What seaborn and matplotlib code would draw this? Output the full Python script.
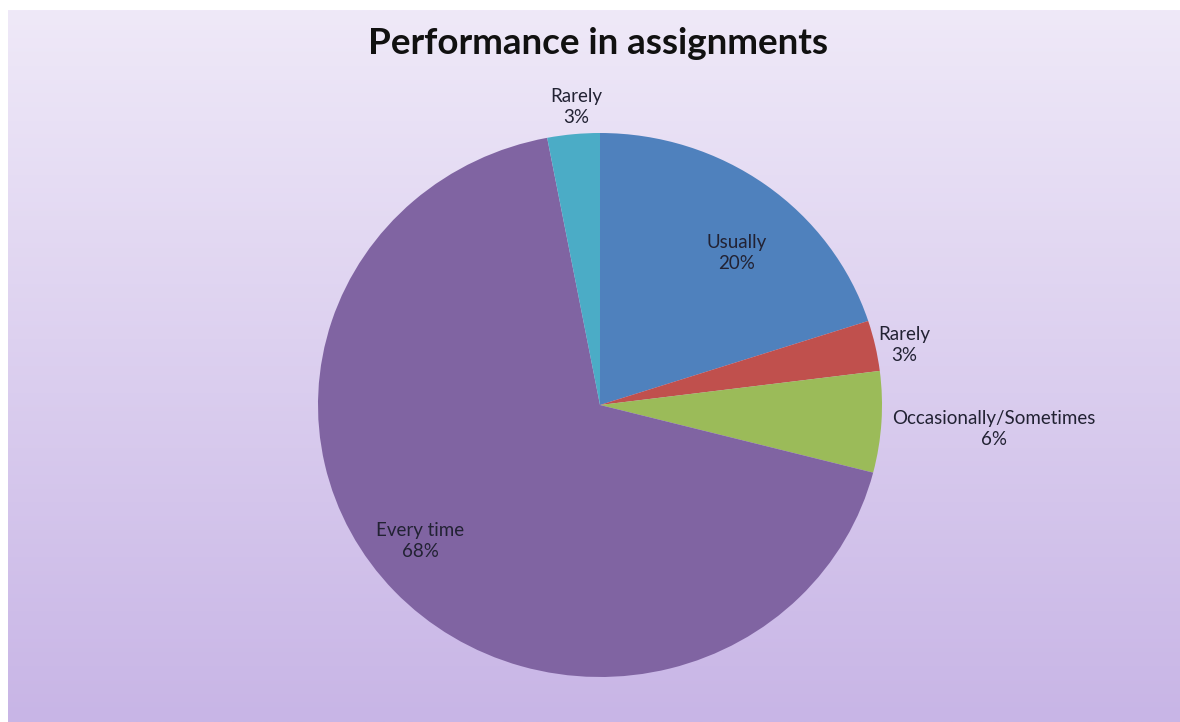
import matplotlib
matplotlib.use("Agg")
import matplotlib.pyplot as plt
import seaborn as sns
import numpy as np

# data (clockwise from 12 o'clock)
categories = ["Usually", "Rarely", "Occasionally/Sometimes", "Every time", "Rarely"]
percents = [20, 3, 6, 68, 3]
slice_colors = ["#4F81BD", "#C0504D", "#9BBB59", "#8064A2", "#4BACC6"]

# where each label sits, as fraction of radius along the slice middle
label_radius = [0.74, 1.10, 1.40, 0.81, 1.10]
label_turn = [-5, -1, 0, -5, -1]

sns.set_style("white")
plt.rcParams["font.family"] = ["Lato", "DejaVu Sans"]

W, H = 1180, 722
fig = plt.figure(figsize=(W / 100, H / 100), dpi=100)
fig.patch.set_facecolor("white")

# gradient backdrop
bg = fig.add_axes([8 / W, 0, 1 - 8 / W, (H - 10) / H], zorder=0)
top = np.array(matplotlib.colors.to_rgb("#EFE9F8"))
bot = np.array(matplotlib.colors.to_rgb("#C8B5E6"))
t = np.linspace(0, 1, 256)[:, None, None]
grad = top * (1 - t) + bot * t
grad = np.repeat(grad, 2, axis=1)
bg.imshow(grad, aspect="auto", extent=[0, 1, 0, 1])
bg.set_axis_off()

# pie axes: centre (600, 405), radii 282 x 272 px
cx, cy, rx, ry = 600, 405, 282, 272
ax = fig.add_axes([(cx - rx) / W, (H - cy - ry) / H, 2 * rx / W, 2 * ry / H], zorder=1)
ax.patch.set_alpha(0)
wedges, _ = ax.pie(percents, colors=slice_colors, startangle=90, counterclock=False,
                   radius=1, wedgeprops=dict(linewidth=0))
ax.set_aspect("auto")
ax.set_xlim(-1, 1)
ax.set_ylim(-1, 1)
ax.set_axis_off()

for w, name, p, r, dt in zip(wedges, categories, percents, label_radius, label_turn):
    mid = np.deg2rad((w.theta1 + w.theta2) / 2 + dt)
    ax.text(r * np.cos(mid), r * np.sin(mid), f"{name}\n{p}%", ha="center", va="center",
            fontsize=13.5, color="#222233", linespacing=1.3, clip_on=False)

fig.text(598 / W, 1 - 44 / H, "Performance in assignments", ha="center", va="center",
         fontsize=26.5, fontweight="bold", color="#111111")

fig.savefig("out.png", dpi=100)
